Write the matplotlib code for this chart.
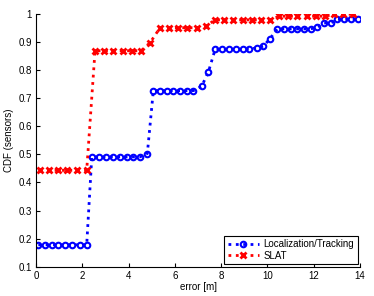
import matplotlib.pyplot as plt

plt.rcParams['font.family'] = ['Liberation Sans', 'DejaVu Sans']

# Localization/Tracking 데이터
loc_x = [0.10, 0.39, 0.68, 0.96, 1.25, 1.57, 1.89, 2.19,
         2.41, 2.72, 3.02, 3.34, 3.63, 3.92, 4.21, 4.49, 4.81,
         5.07, 5.36, 5.65, 5.94, 6.22, 6.51, 6.80, 7.16, 7.45,
         7.74, 8.05, 8.35, 8.64, 8.93, 9.22, 9.54, 9.82, 10.11,
         10.43, 10.72, 11.00, 11.29, 11.58, 11.87, 12.16, 12.45, 12.74,
         13.02, 13.31, 13.60, 13.93]
loc_y = [0.178] * 8 + \
        [0.491] * 8 + [0.503] + \
        [0.727] * 7 + [0.743, 0.794] + \
        [0.874] * 6 + [0.880, 0.885, 0.912] + \
        [0.947] * 6 + [0.953, 0.968, 0.968] + \
        [0.981] * 4

# SLAT 데이터
slat_x = [0.17, 0.56, 0.96, 1.35, 1.76, 2.19,
          2.55, 2.94, 3.34, 3.75, 4.14, 4.54, 4.93,
          5.36, 5.76, 6.15, 6.54, 6.94, 7.35,
          7.74, 8.12, 8.53, 8.93, 9.32, 9.71, 10.11,
          10.51, 10.90, 11.29, 11.70, 12.10, 12.49,
          12.88, 13.28, 13.69]
slat_y = [0.443] * 6 + \
         [0.869] * 6 + [0.898] + \
         [0.951] * 5 + [0.958] + \
         [0.979] * 7 + \
         [0.992] * 6 + \
         [0.999] * 3

x_ticks = [0, 2, 4, 6, 8, 10, 12, 14]
y_ticks = [0.1, 0.2, 0.3, 0.4, 0.5, 0.6, 0.7, 0.8, 0.9, 1.0]
y_labels = ['0.1', '0.2', '0.3', '0.4', '0.5', '0.6', '0.7', '0.8', '0.9', '1']

fig = plt.figure(figsize=(3.74, 2.96), dpi=100)
ax = fig.add_axes([0.0963, 0.099, 0.8663, 0.8537])

ax.plot(loc_x, loc_y, color='#0000ff', linestyle=':', linewidth=2,
        marker='o', markersize=4, markerfacecolor='none',
        markeredgewidth=1.5, label='Localization/Tracking')
ax.plot(slat_x, slat_y, color='#ff0000', linestyle=':', linewidth=2,
        marker='x', markersize=5, markeredgewidth=2, label='SLAT')

ax.set_xlim(0, 14)
ax.set_ylim(0.1, 1.0)
ax.set_xticks(x_ticks)
ax.set_yticks(y_ticks)
ax.set_yticklabels(y_labels)
ax.tick_params(direction='in', length=3, width=0.8, labelsize=7, pad=3)
for side in ['top', 'right']:
    ax.spines[side].set_visible(False)
for side in ['left', 'bottom']:
    ax.spines[side].set_linewidth(0.8)

ax.set_xlabel('error [m]', fontsize=7, labelpad=1)
ax.set_ylabel('CDF (sensors)', fontsize=7, labelpad=3)

leg = ax.legend(loc='lower right', fontsize=7, frameon=True, fancybox=False,
                edgecolor='black', framealpha=1, borderpad=0.35,
                labelspacing=0.2, handlelength=3.2, handletextpad=0.5,
                borderaxespad=0.25, numpoints=1)
leg.get_frame().set_linewidth(0.8)

plt.savefig('out.png', dpi=100)
plt.close()
